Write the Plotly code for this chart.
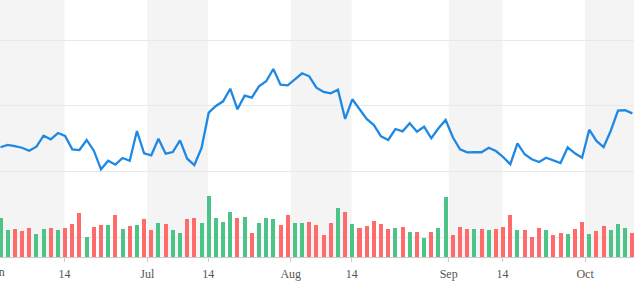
import plotly.graph_objects as go

# ---- data (trading-day index based) ----
close = [143.66, 144.01, 143.85, 143.59, 143.14, 143.75, 145.42, 144.87, 145.83, 145.38,
         143.35, 143.24, 144.77, 143.14, 140.30, 141.61, 141.01, 142.03, 141.61, 146.14,
         142.74, 142.44, 144.97, 142.68, 142.94, 144.72, 141.92, 140.96, 143.55, 148.93,
         149.95, 150.66, 152.58, 149.44, 151.52, 151.21, 152.95, 153.71, 155.58, 153.19,
         153.10, 154.01, 154.93, 154.47, 152.73, 152.08, 151.88, 152.43, 147.97, 150.97,
         149.49, 147.97, 147.05, 145.33, 144.77, 146.44, 146.09, 147.31, 146.03, 146.79,
         145.03, 146.55, 147.81, 145.18, 143.35, 142.89, 142.93, 142.90, 143.59, 143.09,
         142.18, 141.07, 144.27, 142.59, 141.83, 141.42, 142.07, 141.68, 141.26, 143.66,
         142.74, 142.07, 146.34, 144.62, 143.70, 146.18, 149.23, 149.30, 148.83]

volume = [39.0, 26.6, 28.3, 25.6, 29.3, 23.3, 28.3, 29.3, 27.3, 29.3,
          33.3, 44.0, 20.3, 30.3, 32.3, 32.3, 42.3, 28.3, 31.3, 32.3,
          38.3, 26.6, 34.0, 33.3, 26.6, 24.0, 38.3, 39.3, 34.0, 61.3,
          39.0, 35.0, 44.6, 39.0, 40.0, 24.0, 34.0, 39.0, 38.3, 32.0,
          42.0, 34.0, 34.0, 34.6, 32.1, 22.3, 34.0, 49.0, 44.6, 33.0,
          29.3, 31.3, 35.6, 33.0, 27.6, 29.3, 30.3, 25.0, 25.0, 18.6,
          25.0, 29.3, 60.0, 22.3, 30.3, 28.3, 27.6, 28.3, 26.6, 27.6,
          30.3, 42.0, 26.6, 26.6, 20.3, 29.3, 26.6, 22.3, 24.0, 23.0,
          28.3, 35.0, 23.0, 25.6, 31.3, 26.6, 33.0, 29.3, 24.0]

direction = "GGRRRGGRGRRRGRRGRGRGRRGRGGRRGGGGGRGRGGGRRGGRRRRGRGRRRRRGRGRGRGGRRRGRGRRRGRRRGRRGRRGRRGGGR"

tick_pos = [-0.57, 8.93, 20.45, 28.92, 40.42, 48.92, 62.42, 69.93, 81.42]
tick_text = ["Jun", "14", "Jul", "14", "Aug", "14", "Sep", "14", "Oct"]

price_grid = [140, 150, 160]
volume_grid = [20]

# ---- styles ----
UP, DOWN = "#4cc487", "#ff6b6b"
LINE = "#1e88e5"
BAND = "#f4f4f4"
GRID = "#e9e9e9"
TICKFONT = dict(family="Liberation Serif", size=12, color="#555555")

x = list(range(len(close)))
bar_colors = [UP if d == "G" else DOWN for d in direction]

fig = go.Figure()
fig.add_trace(go.Bar(x=x, y=volume, marker=dict(color=bar_colors, line=dict(width=0)),
                     width=0.56, yaxis="y2", hoverinfo="skip"))
fig.add_trace(go.Scatter(x=x, y=close, mode="lines", line=dict(color=LINE, width=2.3),
                         yaxis="y", hoverinfo="skip"))

# alternating bands between the date ticks
edges = [-5] + tick_pos[1:] + [len(close) + 5]
for i in range(len(edges) - 1):
    if i % 2 == 0:
        fig.add_shape(type="rect", xref="x", yref="paper", x0=edges[i], x1=edges[i + 1],
                      y0=0, y1=1, fillcolor=BAND, line=dict(width=0), layer="below")

px_per_idx = 7.18
x0 = -0.5 / px_per_idx
x1 = x0 + 634 / px_per_idx

# labels whose tick falls just left of the visible range (partly cut off)
visible = [(p, t) for p, t in zip(tick_pos, tick_text) if p >= x0]
hidden = [(p, t) for p, t in zip(tick_pos, tick_text) if p < x0]
for p, t in hidden:
    fig.add_annotation(x=(p - x0) / (x1 - x0), xref="paper", y=0, yref="paper", text=t,
                       showarrow=False, xanchor="center", yanchor="top", yshift=-6,
                       font=TICKFONT)

plot_h = 257
p_slope = 131.3 / 20.0
p_lo = 140 - (plot_h - 171.3) / p_slope
p_hi = p_lo + plot_h / p_slope

fig.update_layout(
    width=634, height=284,
    margin=dict(l=0, r=0, t=0, b=27),
    paper_bgcolor="white", plot_bgcolor="white",
    showlegend=False, bargap=0,
    xaxis=dict(range=[x0, x1], tickmode="array",
               tickvals=[p for p, _ in visible], ticktext=[t for _, t in visible],
               showgrid=False, zeroline=False, showline=True, linecolor="#cccccc", linewidth=1,
               ticks="outside", ticklen=4, tickcolor="#cccccc", ticklabelstandoff=2,
               tickfont=TICKFONT),
    yaxis=dict(range=[p_lo, p_hi], domain=[0, 1], tickmode="array", tickvals=price_grid,
               showticklabels=False, showgrid=True, gridcolor=GRID, zeroline=False),
    yaxis2=dict(range=[0, plot_h], domain=[0, 1], overlaying="y", tickmode="array",
                tickvals=volume_grid, showticklabels=False, showgrid=True, gridcolor=GRID,
                zeroline=False),
)

fig.write_html("out.html", config={"displayModeBar": False})
